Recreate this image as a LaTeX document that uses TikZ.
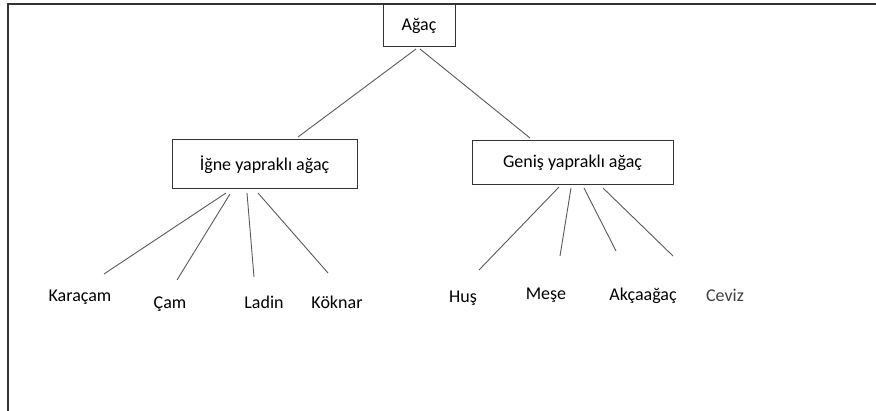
\documentclass[tikz,border=0pt]{standalone}
\usepackage{fontspec}
\setmainfont{Carlito}
\begin{document}
\begin{tikzpicture}[x=1pt,y=-1pt,
  box/.style={draw=black!80,line width=1pt,rectangle,inner sep=0pt,font=\fontsize{18}{20}\selectfont,text=black},
  leaf/.style={inner sep=0pt,font=\fontsize{18}{20}\selectfont,text=black},
  conn/.style={draw=black!65,line width=0.9pt}]
\useasboundingbox (0,0) rectangle (876,411);
\draw[black!80,line width=1.2pt] (8,411) -- (8,4) -- (876,4);
\node[box,minimum width=72pt,minimum height=43pt] (root) at (419,25.5) {Ağaç};
\node[box,minimum width=185pt,minimum height=49pt] (igne) at (264.5,164.5) {İğne yapraklı ağaç};
\node[box,minimum width=201pt,minimum height=44pt] (genis) at (572.5,163) {Geniş yapraklı ağaç};
\node[leaf] (karacam) at (80,297) {Karaçam};
\node[leaf] (cam) at (170,304) {Çam};
\node[leaf] (ladin) at (264,302) {Ladin};
\node[leaf] (koknar) at (337,302) {Köknar};
\node[leaf] (hus) at (463,298) {Huş};
\node[leaf] (mese) at (546,295) {Meşe};
\node[leaf] (akcaagac) at (643,296) {Akçaağaç};
\node[leaf,text=black!75] (ceviz) at (725,295) {Ceviz};
\coordinate (r1) at (416,49);
\coordinate (r2) at (420,49);
\coordinate (e1) at (298,137);
\coordinate (e2) at (530,138);
\draw[conn] (r1) -- (e1);
\draw[conn] (r2) -- (e2);
\coordinate (a1) at (226,193); \coordinate (b1) at (104,274);
\coordinate (a2) at (230,194); \coordinate (b2) at (177,280);
\coordinate (a3) at (247,193); \coordinate (b3) at (254,277);
\coordinate (a4) at (258,193); \coordinate (b4) at (328,273);
\draw[conn] (a1) -- (b1);
\draw[conn] (a2) -- (b2);
\draw[conn] (a3) -- (b3);
\draw[conn] (a4) -- (b4);
\coordinate (c1) at (559,187); \coordinate (d1) at (479,270);
\coordinate (c2) at (571,188); \coordinate (d2) at (560,256);
\coordinate (c3) at (584,188); \coordinate (d3) at (616,251);
\coordinate (c4) at (603,188); \coordinate (d4) at (673,256);
\draw[conn] (c1) -- (d1);
\draw[conn] (c2) -- (d2);
\draw[conn] (c3) -- (d3);
\draw[conn] (c4) -- (d4);
\end{tikzpicture}
\end{document}
